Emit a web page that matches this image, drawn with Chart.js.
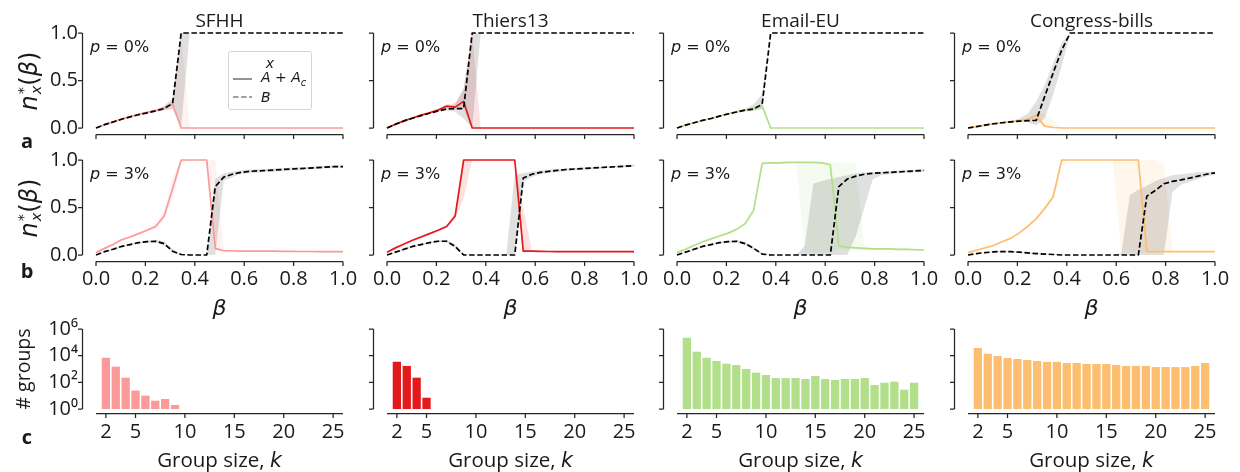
<!DOCTYPE html>
<html><head><meta charset="utf-8">
<script src="https://cdn.jsdelivr.net/npm/chart.js"></script>
<style>
html,body{margin:0;padding:0;background:#fff;}
body{width:1240px;height:472px;position:relative;overflow:hidden;font-family:'Open Sans',Lato,'DejaVu Sans',sans-serif;color:#1a1a1a;}
canvas{position:absolute;}
.t{position:absolute;white-space:nowrap;line-height:1;transform:translate(-50%,-50%);}
.r{transform:translate(-50%,-50%) rotate(-90deg);}
.m{font-family:'DejaVu Sans',sans-serif;font-style:italic;}
.u{font-family:'DejaVu Sans',sans-serif;font-style:normal;}
.legend{position:absolute;left:228px;top:51px;width:84px;height:59px;border:1px solid #d4d4d4;border-radius:3px;background:rgba(255,255,255,0.85);box-sizing:border-box;}
.legend .t{font-size:14px;}
</style></head><body>
<script>
// ---------------- data ----------------
const BETA = [0,0.0345,0.069,0.1034,0.1379,0.1724,0.2069,0.2414,0.2759,0.3103,
  0.3448,0.3793,0.4138,0.4483,0.4828,0.5172,0.5517,0.5862,0.6207,0.6552,
  0.6897,0.7241,0.7586,0.7931,0.8276,0.8621,0.8966,0.931,0.9655,1];
const K = [2,3,4,5,6,7,8,9,10,11,12,13,14,15,16,17,18,19,20,21,22,23,24,25];
const X_TICKS_BETA = [0,0.2,0.4,0.6,0.8,1.0];
const Y_TICKS_N = [0,0.5,1.0];
const X_TICKS_K = [2,5,10,15,20,25];
const Y_TICKS_LOG = [1,100,10000,1000000];
const Y_TICK_LOG_LABELS = ['10⁰','10²','10⁴','10⁶'];
const NAMES = ['SFHH','Thiers13','Email-EU','Congress-bills'];
const COLORS = ['#fb9a99','#e31a1c','#b2df8a','#fdbf6f'];
const P_LABELS = ['0%','3%'];

// SFHH
const SFHH_P0_A    = [0,.035,.065,.095,.12,.145,.165,.185,.21,.25, 0,0,0,0,0,0,0,0,0,0, 0,0,0,0,0,0,0,0,0,0];
const SFHH_P0_A_LO = [0,.03,.06,.088,.112,.136,.155,.172,.19,.2, 0,0,0,0,0,0,0,0,0,0, 0,0,0,0,0,0,0,0,0,0];
const SFHH_P0_A_HI = [0,.04,.07,.1,.128,.154,.175,.198,.235,.3, 1,0,0,0,0,0,0,0,0,0, 0,0,0,0,0,0,0,0,0,0];
const SFHH_P0_B    = [0,.035,.063,.092,.117,.14,.16,.18,.205,.26, 1,1,1,1,1,1,1,1,1,1, 1,1,1,1,1,1,1,1,1,1];
const SFHH_P0_B_LO = [0,.03,.058,.086,.11,.132,.15,.168,.185,.2, 0,1,1,1,1,1,1,1,1,1, 1,1,1,1,1,1,1,1,1,1];
const SFHH_P0_B_HI = [0,.04,.068,.098,.124,.148,.17,.192,.23,.31, 1,1,1,1,1,1,1,1,1,1, 1,1,1,1,1,1,1,1,1,1];
const SFHH_P3_A    = [.025,.07,.11,.16,.19,.225,.26,.3,.41,.7, 1,1,1,1,.07,.045,.045,.04,.04,.04, .04,.04,.038,.038,.037,.037,.036,.036,.035,.035];
const SFHH_P3_A_LO = [.02,.062,.1,.15,.18,.215,.25,.28,.37,.6, .97,1,1,1,.05,.038,.038,.034,.034,.034, .034,.034,.032,.032,.031,.031,.03,.03,.03,.03];
const SFHH_P3_A_HI = [.03,.078,.12,.17,.2,.235,.272,.33,.46,.82, 1,1,1,1,1,.055,.052,.046,.046,.046, .046,.046,.044,.044,.043,.043,.042,.042,.04,.04];
const SFHH_P3_B    = [0,.035,.06,.09,.11,.13,.14,.145,.12,.04, .005,0,0,0,.72,.82,.85,.87,.88,.885, .89,.895,.9,.905,.91,.915,.92,.925,.93,.93];
const SFHH_P3_B_LO = [0,.027,.05,.08,.1,.12,.13,.132,.1,.025, 0,0,0,0,0,.78,.82,.85,.86,.868, .875,.88,.885,.89,.895,.9,.905,.91,.915,.915];
const SFHH_P3_B_HI = [0,.043,.07,.1,.12,.14,.152,.16,.142,.06, .012,0,0,0,.8,.86,.88,.89,.9,.902, .905,.91,.915,.92,.925,.93,.935,.94,.945,.945];
// Thiers13
const THIERS_P0_A    = [0,.04,.075,.105,.135,.16,.19,.23,.22,.28, 0,0,0,0,0,0,0,0,0,0, 0,0,0,0,0,0,0,0,0,0];
const THIERS_P0_A_LO = [0,.035,.07,.1,.128,.15,.176,.21,.2,.2, 0,0,0,0,0,0,0,0,0,0, 0,0,0,0,0,0,0,0,0,0];
const THIERS_P0_A_HI = [0,.045,.08,.11,.142,.17,.202,.25,.26,.4, 1,0,0,0,0,0,0,0,0,0, 0,0,0,0,0,0,0,0,0,0];
const THIERS_P0_B    = [0,.04,.075,.103,.13,.155,.18,.2,.205,.205, 1,1,1,1,1,1,1,1,1,1, 1,1,1,1,1,1,1,1,1,1];
const THIERS_P0_B_LO = [0,.035,.07,.098,.124,.148,.17,.185,.17,.1, 0,1,1,1,1,1,1,1,1,1, 1,1,1,1,1,1,1,1,1,1];
const THIERS_P0_B_HI = [0,.045,.08,.108,.136,.162,.19,.215,.25,.42, 1,1,1,1,1,1,1,1,1,1, 1,1,1,1,1,1,1,1,1,1];
const THIERS_P3_A    = [.03,.075,.115,.155,.19,.225,.26,.3,.41,1, 1,1,1,1,1,1,.04,.04,.038,.037, .036,.036,.035,.035,.035,.035,.035,.035,.035,.035];
const THIERS_P3_A_LO = [.025,.068,.107,.145,.18,.215,.25,.29,.37,.6, 1,1,1,1,1,1,.03,.032,.032,.031, .03,.03,.03,.03,.03,.03,.03,.03,.03,.03];
const THIERS_P3_A_HI = [.035,.082,.123,.165,.2,.235,.272,.312,.45,1, 1,1,1,1,1,1,.5,.048,.045,.043, .042,.041,.04,.04,.04,.04,.04,.04,.04,.04];
const THIERS_P3_B    = [0,.03,.06,.09,.11,.13,.145,.145,.09,0, 0,0,0,0,0,0,.81,.85,.87,.88, .89,.9,.905,.91,.915,.92,.925,.93,.935,.94];
const THIERS_P3_B_LO = [0,.022,.05,.08,.1,.12,.135,.135,.075,0, 0,0,0,0,0,0,.77,.82,.85,.865, .875,.885,.89,.9,.905,.91,.915,.92,.925,.93];
const THIERS_P3_B_HI = [0,.038,.07,.1,.12,.14,.158,.16,.11,.01, 0,0,0,0,0,.85,.86,.88,.89,.9, .905,.91,.915,.92,.925,.93,.935,.94,.945,.95];
// Email-EU
const EMAIL_P0_A    = [0,.03,.055,.08,.1,.125,.15,.17,.19,.205, .23,0,0,0,0,0,0,0,0,0, 0,0,0,0,0,0,0,0,0,0];
const EMAIL_P0_A_LO = [0,.026,.05,.074,.094,.118,.142,.16,.178,.19, .2,0,0,0,0,0,0,0,0,0, 0,0,0,0,0,0,0,0,0,0];
const EMAIL_P0_A_HI = [0,.034,.06,.086,.106,.132,.158,.18,.2,.22, .26,0,0,0,0,0,0,0,0,0, 0,0,0,0,0,0,0,0,0,0];
const EMAIL_P0_B    = [0,.03,.055,.08,.1,.125,.148,.168,.188,.2, .25,1,1,1,1,1,1,1,1,1, 1,1,1,1,1,1,1,1,1,1];
const EMAIL_P0_B_LO = [0,.026,.05,.074,.094,.118,.14,.158,.175,.18, .2,1,1,1,1,1,1,1,1,1, 1,1,1,1,1,1,1,1,1,1];
const EMAIL_P0_B_HI = [0,.034,.06,.086,.106,.132,.156,.178,.2,.25, .36,1,1,1,1,1,1,1,1,1, 1,1,1,1,1,1,1,1,1,1];
const EMAIL_P3_A    = [.025,.06,.1,.14,.17,.2,.23,.27,.33,.47, .965,.97,.97,.975,.975,.975,.975,.97,.95,.095, .08,.075,.07,.065,.065,.065,.06,.06,.055,.053];
const EMAIL_P3_A_LO = [.02,.055,.093,.132,.162,.192,.22,.26,.31,.43, .95,.96,.96,.965,.965,.03,.03,.03,.03,.06, .055,.055,.05,.05,.05,.05,.05,.05,.045,.045];
const EMAIL_P3_A_HI = [.03,.065,.107,.148,.178,.208,.24,.28,.35,.52, .975,.98,.98,.98,.98,.98,.98,.98,.98,.97, .97,.96,.1,.075,.075,.075,.07,.07,.065,.063];
const EMAIL_P3_B    = [0,.03,.06,.09,.11,.13,.14,.145,.12,.07, .01,0,0,0,0,0,0,0,0,.72, .8,.83,.85,.86,.865,.87,.875,.88,.885,.89];
const EMAIL_P3_B_LO = [0,.025,.053,.082,.1,.12,.13,.132,.105,.055, 0,0,0,0,0,0,0,0,0,0, 0,.2,.5,.8,.84,.85,.86,.865,.87,.875];
const EMAIL_P3_B_HI = [0,.035,.067,.098,.12,.14,.15,.158,.135,.085, .02,0,0,0,0,.1,.75,.78,.8,.82, .84,.86,.87,.875,.88,.885,.89,.895,.9,.905];
// Congress-bills
const CONGRESS_P0_A    = [0,.015,.03,.045,.055,.065,.075,.09,.13,.02, .005,0,0,0,0,0,0,0,0,0, 0,0,0,0,0,0,0,0,0,0];
const CONGRESS_P0_A_LO = [0,.012,.026,.04,.05,.058,.066,.075,.09,0, 0,0,0,0,0,0,0,0,0,0, 0,0,0,0,0,0,0,0,0,0];
const CONGRESS_P0_A_HI = [0,.018,.034,.05,.06,.072,.085,.105,.17,.15, .08,0,0,0,0,0,0,0,0,0, 0,0,0,0,0,0,0,0,0,0];
const CONGRESS_P0_B    = [0,.015,.03,.045,.055,.065,.072,.078,.08,.33, .58,.82,1,1,1,1,1,1,1,1, 1,1,1,1,1,1,1,1,1,1];
const CONGRESS_P0_B_LO = [0,.012,.026,.04,.05,.058,.064,.06,.03,.1, .35,.65,1,1,1,1,1,1,1,1, 1,1,1,1,1,1,1,1,1,1];
const CONGRESS_P0_B_HI = [0,.018,.034,.05,.062,.075,.1,.15,.28,.45, .68,.9,1,1,1,1,1,1,1,1, 1,1,1,1,1,1,1,1,1,1];
const CONGRESS_P3_A    = [.025,.05,.075,.1,.14,.175,.23,.3,.38,.49, .61,1,1,1,1,1,1,1,1,1, 1,.035,.035,.035,.035,.035,.035,.035,.035,.035];
const CONGRESS_P3_A_LO = [.02,.045,.07,.095,.133,.168,.22,.29,.37,.47, .58,.95,1,1,1,1,1,1,.03,.03, .03,.03,.03,.03,.03,.03,.03,.03,.03,.03];
const CONGRESS_P3_A_HI = [.03,.055,.08,.105,.147,.182,.24,.31,.4,.52, .68,1,1,1,1,1,1,1,1,1, 1,1,1,.95,.04,.04,.04,.04,.04,.04];
const CONGRESS_P3_B    = [0,.015,.025,.033,.037,.035,.03,.022,.015,.01, .005,0,0,0,0,0,0,0,0,0, 0,.62,.68,.75,.775,.79,.81,.83,.85,.865];
const CONGRESS_P3_B_LO = [0,.01,.02,.027,.03,.028,.022,.015,.008,.004, .001,0,0,0,0,0,0,0,0,0, 0,0,0,0,.66,.74,.77,.8,.83,.845];
const CONGRESS_P3_B_HI = [0,.02,.03,.039,.044,.042,.038,.03,.022,.016, .01,.005,0,0,0,0,0,0,.02,.63, .69,.73,.78,.81,.84,.85,.86,.87,.875,.88];

// group size distributions (k = 2, 3, ...)
const GROUPS_SFHH = [7000,1500,224,24,10,4.2,5.6,2];
const GROUPS_THIERS = [3500,1700,224,7];
const GROUPS_EMAIL = [220000,20000,7000,4000,2500,2000,1000,530,355,210,210,210,178,300,178,150,178,178,210,63,94,112,28,94];
const GROUPS_CONGRESS = [38000,14000,9400,6700,5600,4700,4000,3400,3400,2800,2800,2400,2400,2400,2000,1700,1700,1700,1400,1400,1400,1400,1700,2800];

const LINES = [
  [[SFHH_P0_A,SFHH_P0_A_LO,SFHH_P0_A_HI,SFHH_P0_B,SFHH_P0_B_LO,SFHH_P0_B_HI],
   [SFHH_P3_A,SFHH_P3_A_LO,SFHH_P3_A_HI,SFHH_P3_B,SFHH_P3_B_LO,SFHH_P3_B_HI]],
  [[THIERS_P0_A,THIERS_P0_A_LO,THIERS_P0_A_HI,THIERS_P0_B,THIERS_P0_B_LO,THIERS_P0_B_HI],
   [THIERS_P3_A,THIERS_P3_A_LO,THIERS_P3_A_HI,THIERS_P3_B,THIERS_P3_B_LO,THIERS_P3_B_HI]],
  [[EMAIL_P0_A,EMAIL_P0_A_LO,EMAIL_P0_A_HI,EMAIL_P0_B,EMAIL_P0_B_LO,EMAIL_P0_B_HI],
   [EMAIL_P3_A,EMAIL_P3_A_LO,EMAIL_P3_A_HI,EMAIL_P3_B,EMAIL_P3_B_LO,EMAIL_P3_B_HI]],
  [[CONGRESS_P0_A,CONGRESS_P0_A_LO,CONGRESS_P0_A_HI,CONGRESS_P0_B,CONGRESS_P0_B_LO,CONGRESS_P0_B_HI],
   [CONGRESS_P3_A,CONGRESS_P3_A_LO,CONGRESS_P3_A_HI,CONGRESS_P3_B,CONGRESS_P3_B_LO,CONGRESS_P3_B_HI]]
];
const GROUPS = [GROUPS_SFHH,GROUPS_THIERS,GROUPS_EMAIL,GROUPS_CONGRESS];

// ---------------- layout ----------------
const FONT = "'Open Sans', Lato, sans-serif";
const COL_X = [96,387,677,968];
const PW = 247;
const ROWS = [{top:33,bottom:128,xo:5.5},{top:160,bottom:255,xo:5.5},{top:329,bottom:409,xo:4}];
const PADL = 70, PADT = 12, PADR = 22, PADB = 44;
const TICK_FONT = {family: FONT, size: 20};
const INK = '#1a1a1a';

function rgba(hex,a){const n=parseInt(hex.slice(1),16);return `rgba(${n>>16&255},${n>>8&255},${n&255},${a})`;}
function xy(arr){return arr.map((v,i)=>({x:BETA[i],y:v}));}

function makeCanvas(c,r){
  const row=ROWS[r];
  const left=COL_X[c]-PADL, top=row.top-PADT;
  const w=PADL+PW+PADR, h=PADT+(row.bottom-row.top)+PADB;
  const cv=document.createElement('canvas');
  cv.width=w; cv.height=h;
  cv.style.left=left+'px'; cv.style.top=top+'px';
  cv.style.width=w+'px'; cv.style.height=h+'px';
  document.body.appendChild(cv);
  return cv;
}

function spines(xOff,yOff){
  return {id:'spines', afterDraw(chart){
    const {ctx, chartArea:a} = chart; const x=chart.scales.x, y=chart.scales.y;
    ctx.save(); ctx.strokeStyle='#262626'; ctx.lineWidth=1.25;
    const sx=Math.round(a.left-yOff)+0.5, sy=Math.round(a.bottom+xOff)+0.5;
    ctx.beginPath();
    ctx.moveTo(sx,a.top); ctx.lineTo(sx,a.bottom);
    y.ticks.forEach(t=>{const p=y.getPixelForValue(t.value); ctx.moveTo(sx-4.5,p); ctx.lineTo(sx,p);});
    ctx.moveTo(a.left,sy); ctx.lineTo(a.right,sy);
    x.ticks.forEach(t=>{const p=x.getPixelForValue(t.value); ctx.moveTo(p,sy); ctx.lineTo(p,sy+4.5);});
    ctx.stroke(); ctx.restore();
  }};
}

function baseOptions(){
  return {responsive:false, animation:false, devicePixelRatio:1,
    layout:{padding:{left:0,top:PADT,right:PADR,bottom:0}},
    plugins:{legend:{display:false},tooltip:{enabled:false}},
    elements:{point:{radius:0}}};
}
function noPad(s){s.paddingLeft=0;s.paddingRight=0;s.paddingTop=0;s.paddingBottom=0;}
function axis(extra){
  return Object.assign({grid:{display:false,drawTicks:false,offset:false}, border:{display:false}, offset:false}, extra);
}

function lineChart(c,r){
  const [A,ALO,AHI,B,BLO,BHI] = LINES[c][r];
  const col=COLORS[c];
  const ds=[
    {data:xy(ALO), borderColor:'rgba(0,0,0,0)', borderWidth:0, fill:false, order:3},
    {data:xy(AHI), borderColor:'rgba(0,0,0,0)', borderWidth:0, fill:'-1', backgroundColor:rgba(col,0.13), order:3},
    {data:xy(BLO), borderColor:'rgba(0,0,0,0)', borderWidth:0, fill:false, order:2},
    {data:xy(BHI), borderColor:'rgba(0,0,0,0)', borderWidth:0, fill:'-1', backgroundColor:'rgba(0,0,0,0.12)', order:2},
    {data:xy(A), borderColor:col, borderWidth:1.7, fill:false, order:1, borderJoinStyle:'round', clip:6},
    {data:xy(B), borderColor:'#000', borderWidth:1.7, borderDash:[5.5,2.6], fill:false, order:0, borderJoinStyle:'round', clip:6}
  ];
  const opt=baseOptions();
  opt.scales={
    x:axis({type:'linear',min:0,max:1,
      afterBuildTicks(s){s.ticks=X_TICKS_BETA.map(v=>({value:v}));},
      afterFit(s){s.height=PADB;noPad(s);},
      ticks:{display:r===1,padding:12,font:TICK_FONT,color:INK,maxRotation:0,autoSkip:false,callback:v=>Number(v).toFixed(1)}}),
    y:axis({type:'linear',min:0,max:1,
      afterBuildTicks(s){s.ticks=Y_TICKS_N.map(v=>({value:v}));},
      afterFit(s){s.width=PADL;noPad(s);},
      ticks:{display:c===0,padding:18,font:TICK_FONT,color:INK,autoSkip:false,callback:v=>Number(v).toFixed(1)}})
  };
  new Chart(makeCanvas(c,r),{type:'line',data:{datasets:ds},options:opt,plugins:[spines(ROWS[r].xo,14)]});
}

function barChart(c){
  const g=GROUPS[c];
  const opt=baseOptions();
  opt.scales={
    x:axis({type:'linear',min:1,max:26,
      afterBuildTicks(s){s.ticks=X_TICKS_K.map(v=>({value:v}));},
      afterFit(s){s.height=PADB;noPad(s);},
      ticks:{display:true,padding:11,font:TICK_FONT,color:INK,maxRotation:0,autoSkip:false,callback:v=>String(v)}}),
    y:axis({type:'logarithmic',min:1,max:1000000,
      afterBuildTicks(s){s.ticks=Y_TICKS_LOG.map(v=>({value:v}));},
      afterFit(s){s.width=PADL;noPad(s);},
      ticks:{display:c===0,padding:18,font:TICK_FONT,color:INK,autoSkip:false,callback:(v)=>Y_TICK_LOG_LABELS[Y_TICKS_LOG.indexOf(v)]}})
  };
  new Chart(makeCanvas(c,2),{type:'bar',
    data:{datasets:[{data:g.map((v,i)=>({x:K[i],y:v})),backgroundColor:COLORS[c],borderWidth:0,barPercentage:0.84,categoryPercentage:1}]},
    options:opt,plugins:[spines(ROWS[2].xo,14)]});
}

for(let c=0;c<4;c++){ lineChart(c,0); lineChart(c,1); barChart(c); }

// ---------------- text ----------------
function addText(html,cx,cy,style,cls){
  const d=document.createElement('div');
  d.className='t'+(cls?' '+cls:'');
  d.style.left=cx+'px'; d.style.top=cy+'px';
  if(style) d.style.cssText+=';'+style;
  d.innerHTML=html; document.body.appendChild(d); return d;
}
const NLAB = '<span class="m">n</span><span style="display:inline-flex;flex-direction:column;vertical-align:middle;font-size:0.6em;line-height:0.9;position:relative;top:-0.05em;margin-left:1px"><span class="u">*</span><span class="m">x</span></span><span class="u">(</span><span class="m">β</span><span class="u">)</span>';
for(let c=0;c<4;c++){
  const cx=COL_X[c]+PW/2;
  addText(NAMES[c],cx,19.5,'font-size:19px');
  addText('<span class="m">β</span>',cx,307,'font-size:22px');
  addText('Group size, <span class="m">k</span>',cx,460,'font-size:20.5px');
  for(let r=0;r<2;r++){
    const d=addText('<span class="m">p</span><span class="u"> = '+P_LABELS[r]+'</span>',0,ROWS[r].top+13,'font-size:16px');
    d.style.transform='translate(0,-50%)'; d.style.left=(COL_X[c]-6)+'px';
  }
}
addText(NLAB,30,80.5,'font-size:24px','r');
addText(NLAB,30,207.5,'font-size:24px','r');
addText('# groups',23,369,'font-size:19.5px','r');
addText('a',27,141,'font-size:20px;font-weight:bold');
addText('b',27,271,'font-size:20px;font-weight:bold');
addText('c',27,437,'font-size:20px;font-weight:bold');

// legend
const lg=document.createElement('div'); lg.className='legend';
lg.innerHTML=
 '<div class="t m" style="left:41px;top:11px">x</div>'+
 '<svg style="position:absolute;left:3px;top:21px" width="22" height="12"><line x1="1" y1="6" x2="20" y2="6" stroke="#808080" stroke-width="1.7"/></svg>'+
 '<div class="t" style="left:32px;top:27px;transform:translate(0,-50%)"><span class="m">A</span><span class="u"> + </span><span class="m">A</span><sub class="m" style="font-size:10px">c</sub></div>'+
 '<svg style="position:absolute;left:3px;top:39px" width="22" height="12"><line x1="1" y1="6" x2="20" y2="6" stroke="#808080" stroke-width="1.7" stroke-dasharray="5.5,2.6"/></svg>'+
 '<div class="t m" style="left:32px;top:45px;transform:translate(0,-50%)">B</div>';
document.body.appendChild(lg);
</script>
</body></html>
